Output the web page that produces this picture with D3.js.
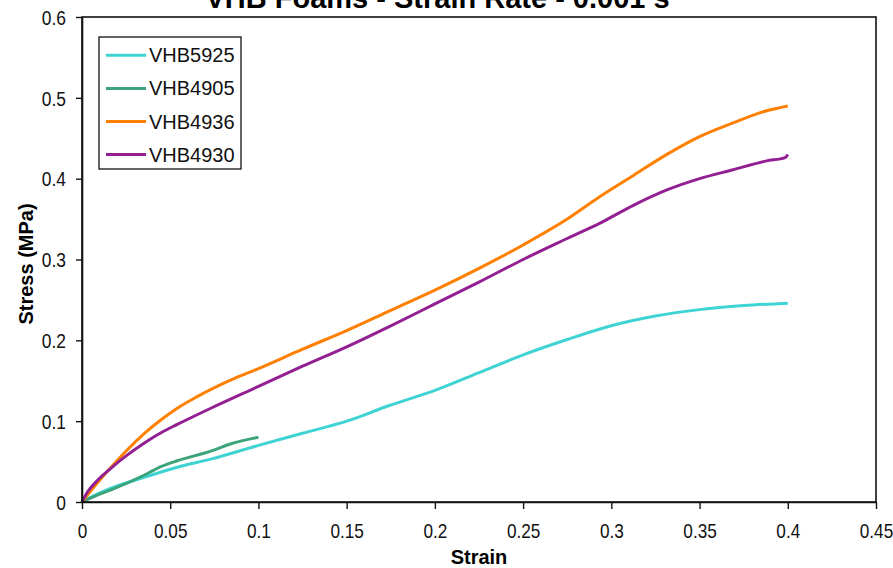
<!DOCTYPE html>
<html><head><meta charset="utf-8">
<script src="https://cdn.jsdelivr.net/npm/d3@7"></script>
<style>body{margin:0;background:#fff}svg{display:block}text{font-family:"Liberation Sans",Arial,sans-serif}</style>
</head><body><svg id="c" width="893" height="568"></svg>
<script>
const seriesNames = ["VHB5925","VHB4905","VHB4936","VHB4930"];
const seriesColors = ["#3fd3d3","#3ca37a","#ff8000","#922092"];
const strainVHB5925 = [0,0.008,0.0165,0.036,0.054,0.073,0.1,0.125,0.15,0.175,0.2,0.225,0.25,0.275,0.3,0.325,0.35,0.375,0.4];
const stressVHB5925 = [0,0.009,0.017,0.031,0.043,0.053,0.07,0.085,0.1,0.12,0.138,0.16,0.182,0.201,0.218,0.23,0.238,0.243,0.246];
const strainVHB4905 = [0,0.008,0.0165,0.036,0.045,0.054,0.073,0.0845,0.1];
const stressVHB4905 = [0,0.008,0.015,0.034,0.044,0.051,0.063,0.072,0.08];
const strainVHB4936 = [0,0.005,0.01,0.0165,0.025,0.036,0.045,0.054,0.065,0.0845,0.1,0.125,0.15,0.175,0.2,0.225,0.25,0.275,0.2936,0.3125,0.3315,0.35,0.369,0.388,0.4];
const stressVHB4936 = [0,0.014,0.027,0.043,0.063,0.086,0.102,0.116,0.13,0.151,0.165,0.189,0.212,0.237,0.262,0.289,0.318,0.35,0.378,0.404,0.43,0.452,0.469,0.484,0.49];
const strainVHB4930 = [0,0.003,0.008,0.0165,0.025,0.036,0.045,0.054,0.073,0.1,0.125,0.15,0.175,0.2,0.225,0.25,0.275,0.2936,0.3125,0.3315,0.35,0.369,0.388,0.3985,0.4];
const stressVHB4930 = [0,0.012,0.025,0.042,0.057,0.074,0.086,0.096,0.116,0.143,0.168,0.192,0.218,0.245,0.272,0.3,0.326,0.345,0.367,0.386,0.4,0.411,0.422,0.426,0.43];
const xTicks = [0,0.05,0.1,0.15,0.2,0.25,0.3,0.35,0.4,0.45];
const yTicks = [0,0.1,0.2,0.3,0.4,0.5,0.6];
const titleMain = "VHB Foams - Strain Rate - 0.001 s";
const titleSup = "-1";
const xLabel = "Strain", yLabel = "Stress (MPa)";

const svg = d3.select("#c");
const L=82,R=876,T=17,B=502;
const x = d3.scaleLinear().domain([0,0.45]).range([L,R]);
const y = d3.scaleLinear().domain([0,0.6]).range([B,T]);

const strains=[strainVHB5925,strainVHB4905,strainVHB4936,strainVHB4930];
const stresses=[stressVHB5925,stressVHB4905,stressVHB4936,stressVHB4930];
const line = d3.line().x(d=>x(d[0])).y(d=>y(d[1])).curve(d3.curveMonotoneX);
seriesNames.forEach((n,i)=>{
  const pts = strains[i].map((s,j)=>[s,stresses[i][j]]);
  svg.append("path").attr("d",line(pts)).attr("fill","none").attr("stroke",seriesColors[i]).attr("stroke-width",3).attr("stroke-linejoin","round");
});

// frame
svg.append("rect").attr("x",L).attr("y",T).attr("width",R-L).attr("height",B-T).attr("fill","none").attr("stroke","#111").attr("stroke-width",1.6);

const xa = svg.append("g").attr("transform",`translate(0,${B})`).call(d3.axisBottom(x).tickValues(xTicks).tickSize(7).tickSizeOuter(0).tickFormat(d3.format("~g")));
xa.select(".domain").attr("stroke","#111").attr("stroke-width",1.6);
xa.selectAll(".tick line").attr("stroke","#111").attr("stroke-width",1.4);
xa.selectAll(".tick text").attr("font-size",20).attr("fill","#111").attr("dy",0).attr("y",36).attr("x",0)
  .attr("text-anchor","middle").attr("font-family","'Liberation Sans',Arial,sans-serif")
  .attr("transform","scale(0.86,1)");
const ya = svg.append("g").attr("transform",`translate(${L},0)`).call(d3.axisLeft(y).tickValues(yTicks).tickSize(6).tickSizeOuter(0).tickFormat(d3.format("~g")));
ya.select(".domain").attr("stroke","#111").attr("stroke-width",1.6);
ya.selectAll(".tick line").attr("stroke","#111").attr("stroke-width",1.4);
ya.selectAll(".tick text").attr("font-size",20).attr("fill","#111").attr("x",0).attr("dy","0.36em")
  .attr("font-family","'Liberation Sans',Arial,sans-serif")
  .attr("transform","translate(-16,0) scale(0.87,1)");

// title
const tt = svg.append("text").attr("x",446).attr("y",8).attr("text-anchor","middle").attr("font-size",29).attr("font-weight","bold").attr("fill","#000");
tt.append("tspan").text(titleMain);
tt.append("tspan").attr("dy",-11).attr("font-size",19).text(titleSup);

svg.append("text").attr("x",479).attr("y",564).attr("text-anchor","middle").attr("font-size",20).attr("font-weight","bold").text(xLabel);
svg.append("text").attr("transform","translate(33,264) rotate(-90)").attr("text-anchor","middle").attr("font-size",20).attr("font-weight","bold").text(yLabel);

// legend
const lg = svg.append("g");
lg.append("rect").attr("x",99).attr("y",37).attr("width",142).attr("height",132).attr("fill","#fff").attr("stroke","#111").attr("stroke-width",1.3);
seriesNames.forEach((n,i)=>{
  const cy = 55.3 + i*33.1;
  lg.append("line").attr("x1",106).attr("x2",146).attr("y1",cy).attr("y2",cy).attr("stroke",seriesColors[i]).attr("stroke-width",3);
  lg.append("text").attr("x",149).attr("y",cy+7).attr("font-size",20).attr("fill","#111").text(n);
});
</script></body></html>
